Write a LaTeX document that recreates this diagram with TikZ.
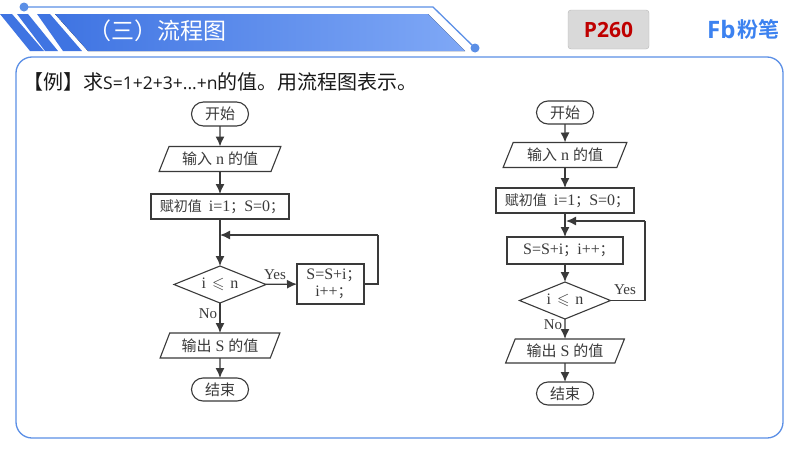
\documentclass[tikz,border=0pt]{standalone}
\usepackage{amssymb}
\usepackage{fontspec}
\setmainfont{Liberation Serif}
\newfontfamily\cjk{Noto Sans CJK SC}
\newfontfamily\cjkb{Noto Sans CJK SC Bold}
\newfontfamily\opensans{Open Sans}
\newcommand\zh[1]{{\cjk\fontsize{15}{18}\selectfont\color{chartink}#1}}
\newcommand\zs[1]{{\cjk\fontsize{14}{18}\selectfont\color{chartink}#1}}
\usetikzlibrary{arrows.meta,shapes.geometric,shapes.misc}
\definecolor{chartink}{HTML}{3A3A3A}
\definecolor{bandl}{HTML}{3F74E2}
\definecolor{bandr}{HTML}{7FA8F6}
\definecolor{edge}{HTML}{5B8FE6}
\definecolor{logo}{HTML}{3C82F0}
\tikzset{
  x=1pt,y=-1pt,
  base/.style={draw=chartink,line width=1.1pt,inner sep=0pt,outer sep=0pt,text=chartink,font=\fontsize{16}{18}\selectfont,align=center},
  term/.style={base,rounded rectangle,minimum width=57pt,minimum height=24pt},
  io/.style={base,trapezium,trapezium left angle=62,trapezium right angle=118,trapezium stretches=true,minimum width=122pt,minimum height=25pt},
  proc/.style={base,rectangle},
  deci/.style={base,diamond,aspect=2.4,minimum width=92pt,minimum height=37pt},
  flow/.style={draw=chartink,line width=1.4pt,-{Latex[length=10pt,width=9pt]}},
  plain/.style={draw=chartink,line width=1.1pt},
  lab/.style={text=chartink,font=\fontsize{15}{17}\selectfont,inner sep=0pt},
  stripe/.style={fill=bandl}
}
\begin{document}
\begin{tikzpicture}
\useasboundingbox (0,0) rectangle (800,450);
\fill[white] (0,0) rectangle (800,450);
% header
\fill[stripe] (0,14) -- (12,14) -- (44,51) -- (30,51) -- cycle;
\fill[stripe] (17,14) -- (28,14) -- (58,51) -- (45,51) -- cycle;
\fill[stripe] (37,14) -- (50,14) -- (82,51) -- (63,51) -- cycle;
\fill[left color=bandl,right color=bandr] (55,14) -- (428,14) -- (465,51) -- (88,51) -- cycle;
\draw[edge,line width=1.3pt] (24,7) -- (433,7) -- (475,48);
\fill[edge] (24,7) circle (4.5);
\fill[edge] (475,48) circle (4.5);
\node[anchor=west,inner sep=0pt,text=white,font=\cjk\fontsize{23}{26}\selectfont] (title) at (88,31) {（三）流程图};
% page tag
\node[draw=black!28,fill=black!15,rounded corners=3pt,minimum width=81pt,minimum height=39pt,inner sep=0pt,text=red!75!black,font=\opensans\fontsize{21}{24}\selectfont\bfseries] (tag) at (608.5,29.5) {P260};
% logo
\node[anchor=west,inner sep=0pt,text=logo,font=\opensans\bfseries\fontsize{24}{26}\selectfont] (fb) at (707,29) {Fb};
\node[anchor=west,inner sep=0pt,text=logo,font=\cjkb\fontsize{21}{24}\selectfont] (brand) at (737,29) {粉笔};
% panel
\draw[edge,line width=1.3pt,rounded corners=16pt] (16,57) rectangle (783,438);
% question
\node[anchor=west,inner sep=0pt,text=black!90,font=\fontsize{20}{24}\selectfont] (q) at (23,82) {{\cjk 【例】求}{\opensans\fontsize{17.5}{24}\selectfont S=1+2+3+...+n}{\cjk 的值。用流程图表示。}};
% left chart
\node[term] (a1) at (220,114) {\zh{开始}};
\node[io] (a2) at (220,159) {\zh{输入} n \zh{的值}};
\node[proc,minimum width=138pt,minimum height=25pt] (a3) at (220,206.5) {\hspace*{4pt}\zs{赋初值}\hspace{3pt} i=1\zs{；}S=0\zs{；}};
\node[deci] (a4) at (220,284.5) {i\hspace{2pt} $\leqslant$\hspace{2pt} n};
\node[proc,minimum width=67pt,minimum height=40pt] (a5) at (330.5,284) {\hspace*{6pt}S=S+i\zs{；}\\[-1pt]\hspace*{6pt}i++\zs{；}};
\node[io,minimum width=120pt] (a6) at (220,345.5) {\zh{输出} S \zh{的值}};
\node[term,minimum height=23pt] (a7) at (220,389.5) {\zh{结束}};
\coordinate (aj) at (220,235);
\coordinate (ar) at (378,284);
\coordinate (at) at (378,235);
\draw[flow] (a1) -- (a2);
\draw[flow] (a2) -- (a3);
\draw[flow] (a3) -- (a4);
\draw[flow] (a4) -- (a5);
\draw[flow] (a4) -- (a6);
\draw[flow] (a6) -- (a7);
\draw[plain] (a5.east) -- (ar) -- (at);
\draw[flow] (at) -- (aj);
\node[lab] (ly) at (275,275) {Yes};
\node[lab] (ln) at (208,314) {No};
% right chart
\node[term,minimum height=23pt] (b1) at (565,112.5) {\zh{开始}};
\node[io,minimum width=124pt] (b2) at (565,155) {\zh{输入} n \zh{的值}};
\node[proc,minimum width=138pt,minimum height=25pt] (b3) at (565,200.5) {\hspace*{4pt}\zs{赋初值}\hspace{3pt} i=1\zs{；}S=0\zs{；}};
\node[proc,minimum width=116pt,minimum height=27pt] (b4) at (565,250.5) {\hspace*{7pt}S=S+i\zs{；}i++\zs{；}};
\node[deci,minimum width=91pt] (b5) at (565,300.5) {i\hspace{2pt} $\leqslant$\hspace{2pt} n};
\node[io,minimum width=119pt,minimum height=24pt] (b6) at (565,351) {\zh{输出} S \zh{的值}};
\node[term,minimum height=23pt] (b7) at (565,393.5) {\zh{结束}};
\coordinate (bj) at (566,221);
\coordinate (br) at (645,300.5);
\coordinate (bt) at (645,221);
\draw[flow] (b1) -- (b2);
\draw[flow] (b2) -- (b3);
\draw[flow] (b3) -- (b4);
\draw[flow] (b4) -- (b5);
\draw[flow] (b5) -- (b6);
\draw[flow] (b6) -- (b7);
\draw[plain] (b5.east) -- (br) -- (bt);
\draw[flow] (bt) -- (bj);
\node[lab] (my) at (625,290) {Yes};
\node[lab] (mn) at (553,325) {No};
\end{tikzpicture}
\end{document}
